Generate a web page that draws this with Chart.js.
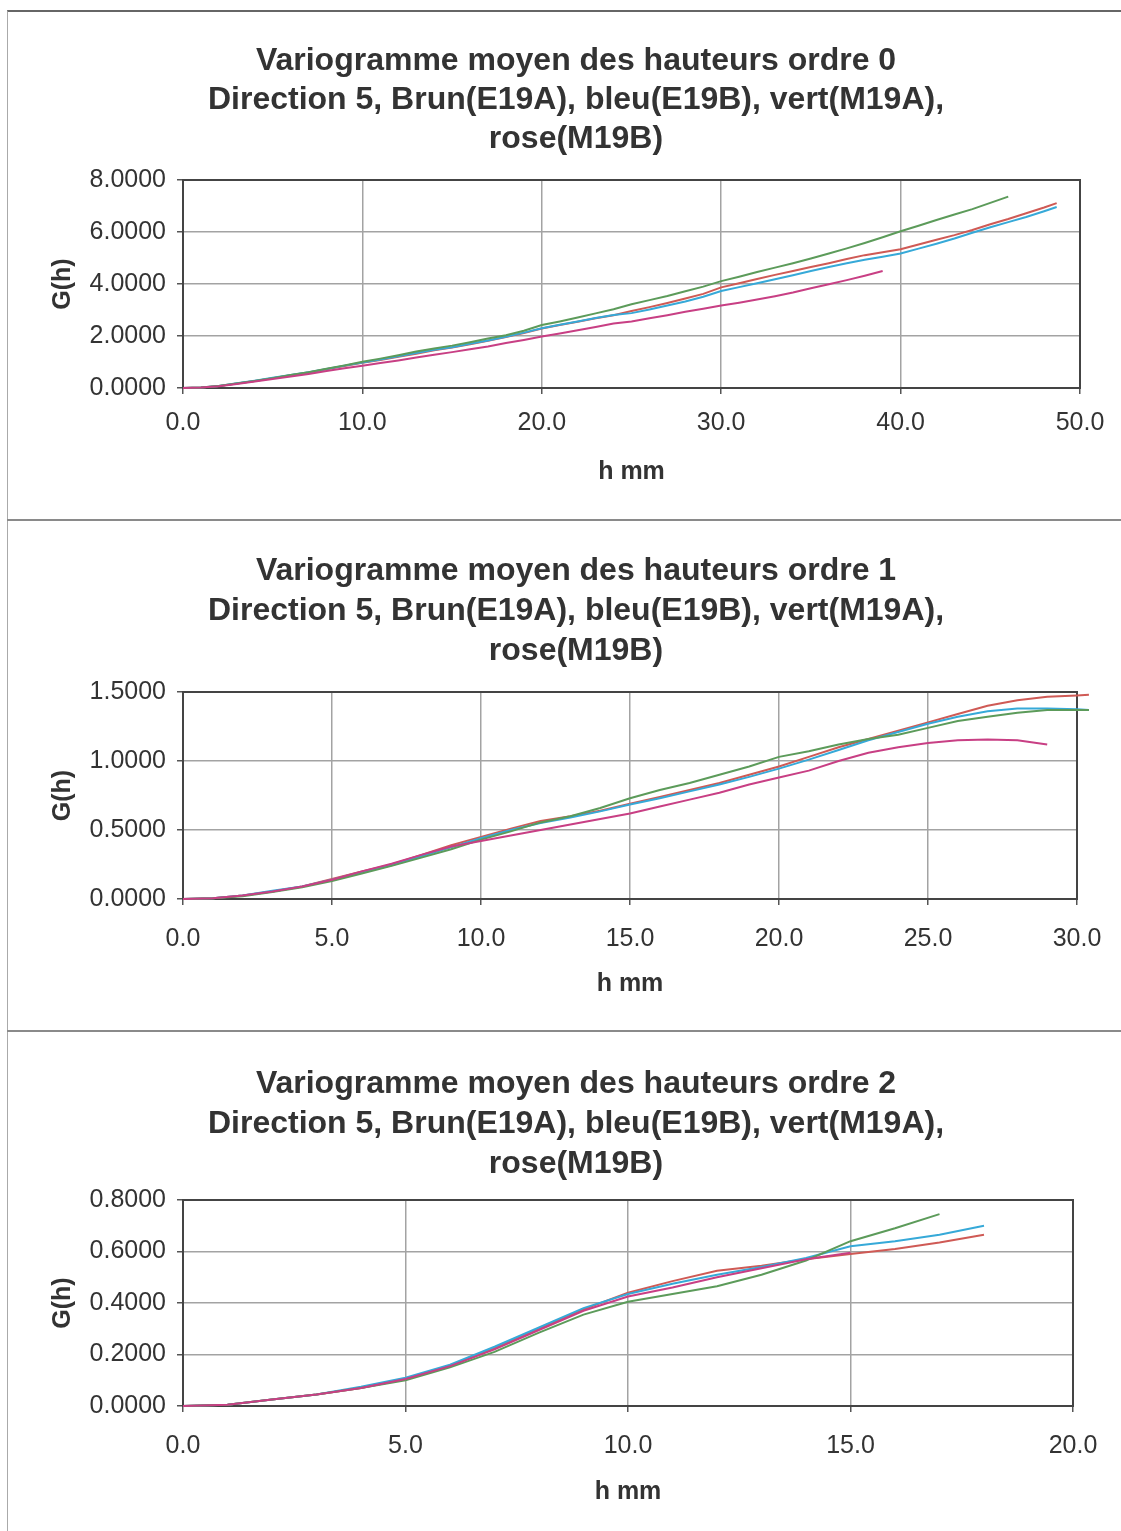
<!DOCTYPE html>
<html>
<head>
<meta charset="utf-8">
<script src="https://cdn.jsdelivr.net/npm/chart.js@4/dist/chart.umd.min.js"></script>
<style>
  html, body { margin: 0; padding: 0; background: #fff; overflow: hidden; width: 1121px; height: 1531px; }
  #frame { position: absolute; left: 7px; top: 10px; width: 1200px; height: 1600px;
           border-top: 2px solid #666; border-left: 1px solid #aaa; }
  .sep { position: absolute; left: 7px; width: 1114px; height: 0; border-top: 2px solid #8a8a8a; }
  canvas { position: absolute; left: 7px; display: block; }
</style>
</head>
<body>
<div id="frame"></div>
<canvas id="c0" width="1138" height="507" style="top:12px"></canvas>
<div class="sep" style="top:519px"></div>
<canvas id="c1" width="1138" height="509" style="top:521px"></canvas>
<div class="sep" style="top:1030px"></div>
<canvas id="c2" width="1138" height="509" style="top:1032px"></canvas>

<script>
// ---- Series: Brun(E19A), bleu(E19B), vert(M19A), rose(M19B) ----
const seriesNames = ['E19A', 'E19B', 'M19A', 'M19B'];
const seriesColors = ['#cf5a55', '#36a9d8', '#5c9b5a', '#c83f84'];

const titleLine2 = 'Direction 5, Brun(E19A), bleu(E19B), vert(M19A),';
const titleLine3 = 'rose(M19B)';

// ---- Ordre 0 ----
const h0 = [0,1,2,3,4,5,6,7,8,9,10,11,12,13,14,15,16,17,18,19,20,21,22,23,24,25,26,27,28,29,30,31,32,33,34,35,36,37,38,39,40,41,42,43,44,45,46,47,48,48.7];
const e19a0 = [0.00,0.02,0.08,0.17,0.27,0.38,0.49,0.60,0.72,0.85,0.97,1.08,1.20,1.32,1.45,1.56,1.68,1.82,1.96,2.11,2.29,2.42,2.55,2.68,2.80,2.96,3.11,3.27,3.44,3.62,3.87,4.03,4.19,4.35,4.50,4.65,4.80,4.96,5.11,5.22,5.34,5.52,5.70,5.88,6.08,6.30,6.50,6.72,6.94,7.11];
const e19b0 = [0.00,0.02,0.08,0.18,0.28,0.39,0.50,0.61,0.73,0.86,0.98,1.10,1.22,1.35,1.47,1.57,1.70,1.83,1.97,2.13,2.30,2.43,2.56,2.69,2.81,2.88,3.02,3.17,3.33,3.51,3.73,3.88,4.03,4.18,4.34,4.50,4.65,4.80,4.93,5.05,5.17,5.36,5.55,5.75,5.97,6.18,6.38,6.58,6.80,6.96];
const m19a0 = [0.00,0.02,0.08,0.17,0.27,0.38,0.50,0.61,0.74,0.87,1.01,1.13,1.26,1.40,1.52,1.63,1.76,1.90,2.03,2.20,2.42,2.56,2.71,2.87,3.03,3.22,3.38,3.54,3.72,3.90,4.11,4.28,4.46,4.63,4.80,4.98,5.17,5.37,5.58,5.80,6.03,6.24,6.46,6.67,6.88,7.12,7.36,null,null,null];
const m19b0 = [0.00,0.02,0.07,0.15,0.25,0.35,0.44,0.54,0.65,0.76,0.86,0.96,1.06,1.17,1.28,1.38,1.49,1.60,1.73,1.85,1.98,2.10,2.22,2.35,2.48,2.56,2.68,2.80,2.93,3.05,3.17,3.28,3.40,3.53,3.67,3.84,3.99,4.15,4.32,4.50,null,null,null,null,null,null,null,null,null,null];

// ---- Ordre 1 ----
const h1 = [0,1,2,3,4,5,6,7,8,9,10,11,12,13,14,15,16,17,18,19,20,21,22,23,24,25,26,27,28,29,30,30.4];
const e19a1 = [0,0.005,0.025,0.055,0.09,0.145,0.2,0.25,0.32,0.39,0.45,0.51,0.565,0.6,0.64,0.69,0.74,0.79,0.84,0.9,0.96,1.03,1.1,1.16,1.22,1.28,1.34,1.4,1.44,1.465,1.475,1.48];
const e19b1 = [0,0.005,0.025,0.06,0.09,0.14,0.195,0.245,0.31,0.375,0.44,0.5,0.55,0.59,0.635,0.685,0.73,0.78,0.83,0.885,0.945,1.01,1.08,1.15,1.21,1.27,1.32,1.36,1.38,1.38,1.375,1.37];
const m19a1 = [0,0.005,0.02,0.05,0.085,0.13,0.185,0.24,0.3,0.36,0.43,0.49,0.555,0.6,0.66,0.73,0.79,0.84,0.9,0.96,1.03,1.07,1.12,1.16,1.19,1.24,1.29,1.32,1.35,1.37,1.37,1.37];
const m19b1 = [0,0.005,0.025,0.055,0.09,0.14,0.2,0.255,0.32,0.38,0.42,0.46,0.5,0.54,0.58,0.62,0.67,0.72,0.77,0.83,0.88,0.93,1.0,1.06,1.1,1.13,1.15,1.155,1.15,1.12,null,null];

// ---- Ordre 2 ----
const h2 = [0,1,2,3,4,5,6,7,8,9,10,11,12,13,14,15,16,17,18];
const e19a2 = [0,0.005,0.025,0.045,0.07,0.105,0.155,0.225,0.3,0.375,0.44,0.485,0.525,0.545,0.57,0.59,0.61,0.635,0.665];
const e19b2 = [0,0.005,0.025,0.045,0.075,0.11,0.16,0.23,0.305,0.38,0.435,0.475,0.51,0.54,0.575,0.62,0.64,0.665,0.70];
const m19a2 = [0,0.005,0.025,0.045,0.07,0.1,0.15,0.21,0.285,0.355,0.405,0.435,0.465,0.51,0.565,0.64,0.69,0.745,null];
const m19b2 = [0,0.005,0.025,0.045,0.07,0.105,0.155,0.22,0.295,0.37,0.425,0.46,0.5,0.535,0.57,0.595,null,null,null];

const FONT = '"Liberation Sans", Arial, Helvetica, sans-serif';
const TEXT = '#333';

// Multi-line chart heading drawn centred over the panel
const headingPlugin = {
  id: 'heading',
  afterDraw(chart, args, opts) {
    const ctx = chart.ctx;
    ctx.save();
    ctx.font = 'bold 32px ' + FONT;
    ctx.fillStyle = TEXT;
    ctx.textAlign = 'center';
    ctx.textBaseline = 'middle';
    opts.lines.forEach((t, i) => ctx.fillText(t, opts.cx, opts.y[i]));
    ctx.restore();
  }
};

// Dark frame round the plot area
const plotFramePlugin = {
  id: 'plotFrame',
  beforeDatasetsDraw(chart) {
    const a = chart.chartArea, ctx = chart.ctx;
    ctx.save();
    ctx.strokeStyle = '#444';
    ctx.lineWidth = 2;
    ctx.strokeRect(a.left, a.top, a.right - a.left, a.bottom - a.top);
    ctx.restore();
  }
};

function toPoints(xs, ys) {
  const pts = [];
  xs.forEach((x, i) => { if (ys[i] !== null) pts.push({ x: x, y: ys[i] }); });
  return pts;
}

function buildPanel(id, p) {
  const canvas = document.getElementById(id);
  const W = canvas.width, H = canvas.height;
  const xScaleHeight = H - p.plotBottom;
  const datasets = p.series.map((ys, i) => ({
    label: seriesNames[i],
    data: toPoints(p.h, ys),
    borderColor: seriesColors[i],
    backgroundColor: seriesColors[i],
    borderWidth: 2,
    pointRadius: 0,
    tension: 0,
    fill: false,
    clip: false,
    order: 3 - i
  }));
  return new Chart(canvas, {
    type: 'line',
    data: { datasets },
    plugins: [headingPlugin, plotFramePlugin],
    options: {
      responsive: false,
      animation: false,
      layout: { padding: { left: 0, top: p.plotTop, right: W - p.plotRight, bottom: 0 } },
      plugins: {
        legend: { display: false },
        tooltip: { enabled: false },
        heading: { lines: p.title, cx: W / 2, y: p.titleY }
      },
      scales: {
        x: {
          type: 'linear',
          // range fixed here so that series running slightly past the last tick still get drawn
          afterDataLimits: s => { s.min = 0; s.max = p.xMax; },
          ticks: { stepSize: p.xStep, autoSkip: false, maxRotation: 0,
                   callback: v => v.toFixed(1), font: { family: FONT, size: 25 }, color: TEXT, padding: p.xTickPad },
          grid: { color: '#a3a3a3', lineWidth: 1.5, tickLength: 6, tickColor: '#555' },
          border: { color: '#444', width: 2 },
          title: { display: true, text: 'h mm', color: TEXT,
                   font: { family: FONT, size: 25, weight: 'bold' },
                   padding: { top: 0, bottom: p.xTitlePad } },
          afterFit: s => { s.height = xScaleHeight; }
        },
        y: {
          type: 'linear', min: 0, max: p.yMax,
          ticks: { stepSize: p.yStep, callback: v => v.toFixed(4),
                   font: { family: FONT, size: 25 }, color: TEXT, padding: 11 },
          grid: { color: '#a3a3a3', lineWidth: 1.5, tickLength: 6, tickColor: '#555' },
          border: { color: '#444', width: 2 },
          title: { display: true, text: 'G(h)', color: TEXT,
                   font: { family: FONT, size: 25, weight: 'bold' },
                   padding: { top: 41, bottom: 0 } },
          afterFit: s => { s.width = 176; }
        }
      }
    }
  });
}

buildPanel('c0', {
  h: h0, series: [e19a0, e19b0, m19a0, m19b0],
  xMax: 50, xStep: 10, yMax: 8, yStep: 2,
  plotTop: 168, plotBottom: 376, plotRight: 1073,
  title: ['Variogramme moyen des hauteurs ordre 0', titleLine2, titleLine3],
  titleY: [49, 88, 127], xTickPad: 14, xTitlePad: 32
});
buildPanel('c1', {
  h: h1, series: [e19a1, e19b1, m19a1, m19b1],
  xMax: 30, xStep: 5, yMax: 1.5, yStep: 0.5,
  plotTop: 171, plotBottom: 378, plotRight: 1070,
  title: ['Variogramme moyen des hauteurs ordre 1', titleLine2, titleLine3],
  titleY: [50, 90, 130], xTickPad: 19, xTitlePad: 31
});
buildPanel('c2', {
  h: h2, series: [e19a2, e19b2, m19a2, m19b2],
  xMax: 20, xStep: 5, yMax: 0.8, yStep: 0.2,
  plotTop: 168, plotBottom: 374, plotRight: 1066,
  title: ['Variogramme moyen des hauteurs ordre 2', titleLine2, titleLine3],
  titleY: [52, 92, 132], xTickPad: 19, xTitlePad: 34
});
</script>
</body>
</html>
